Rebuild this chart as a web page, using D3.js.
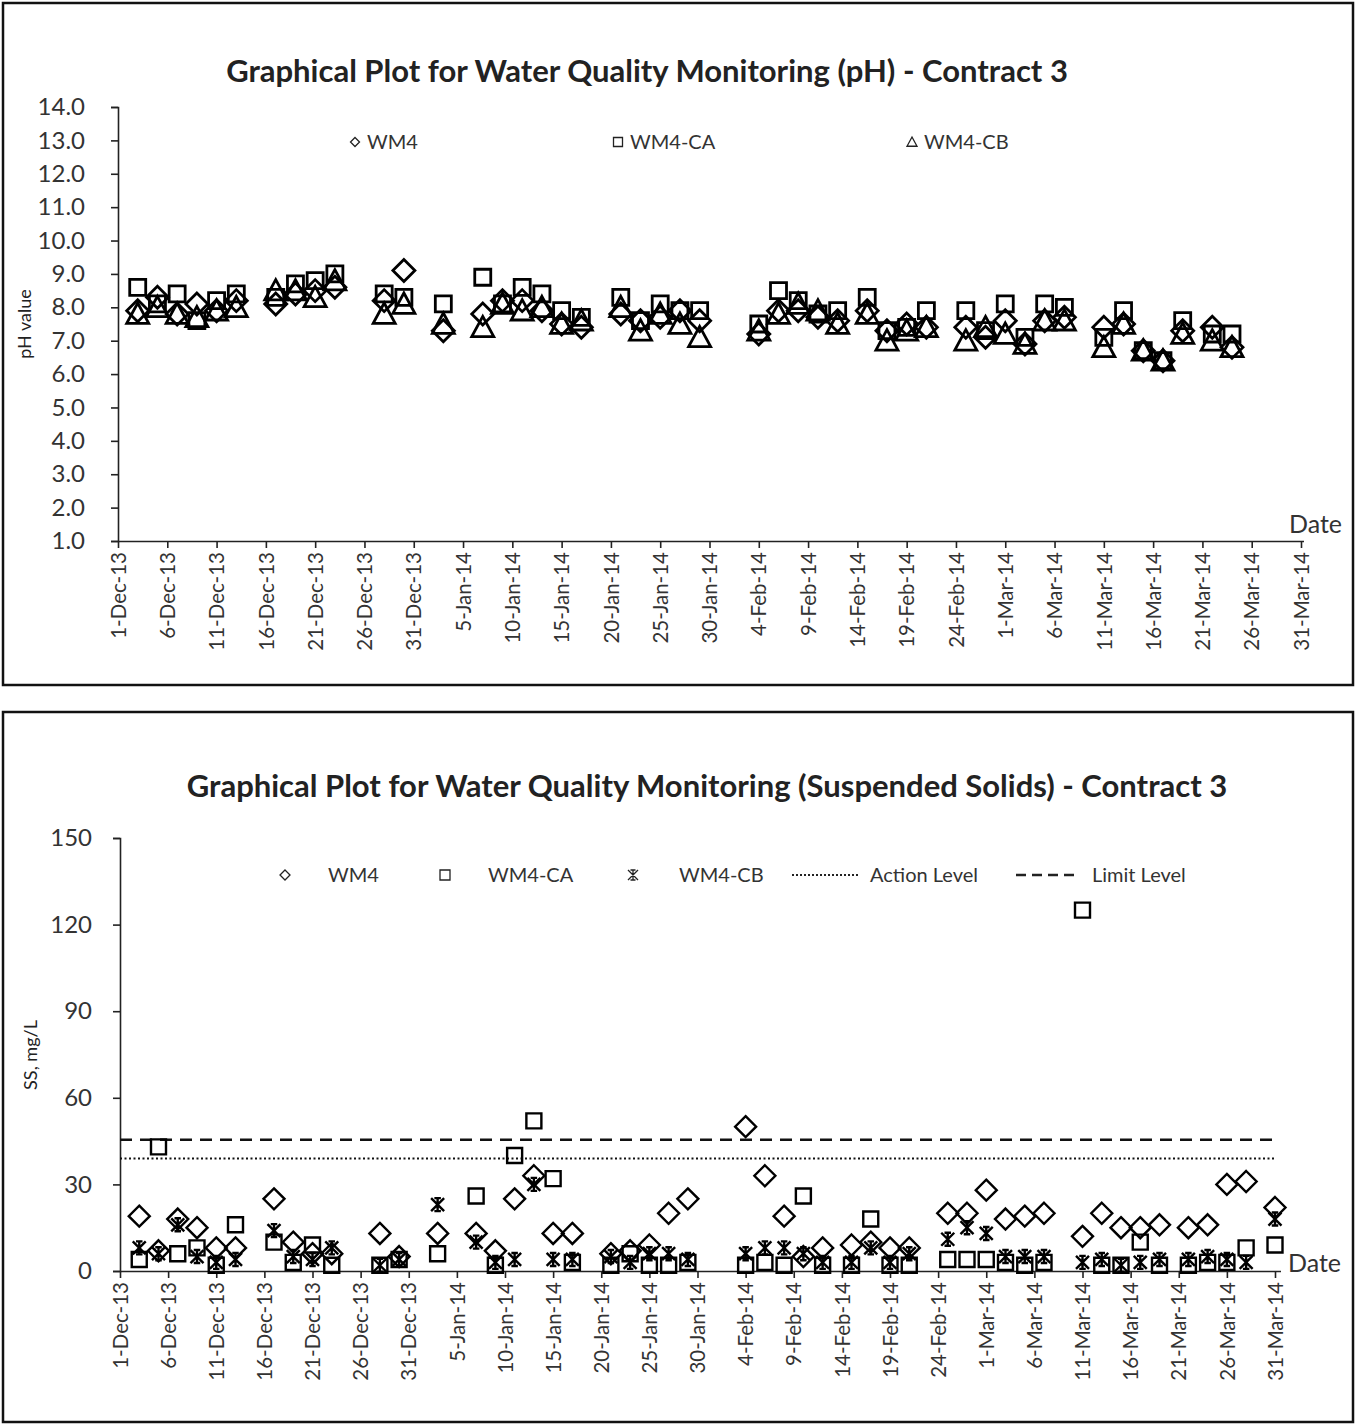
<!DOCTYPE html>
<html>
<head>
<meta charset="utf-8">
<script src="https://cdn.jsdelivr.net/npm/d3@7"></script>
<style>
  body { margin: 0; background: #fff; }
  text { font-family: Lato, "Open Sans", sans-serif; fill: #222; }
</style>
</head>
<body>
<svg id="chart" width="1356" height="1425"></svg>
<script>
// pH chart sampling dates
const phDates = [
  "2013-12-03","2013-12-05","2013-12-07","2013-12-09","2013-12-11","2013-12-13",
  "2013-12-17","2013-12-19","2013-12-21","2013-12-23","2013-12-28","2013-12-30",
  "2014-01-03","2014-01-07","2014-01-09","2014-01-11","2014-01-13","2014-01-15",
  "2014-01-17","2014-01-21","2014-01-23","2014-01-25","2014-01-27","2014-01-29",
  "2014-02-04","2014-02-06","2014-02-08","2014-02-10","2014-02-12","2014-02-15",
  "2014-02-17","2014-02-19","2014-02-21","2014-02-25","2014-02-27",
  "2014-03-01","2014-03-03","2014-03-05","2014-03-07","2014-03-11","2014-03-13",
  "2014-03-15","2014-03-17","2014-03-19","2014-03-22","2014-03-24"
];
const phWM4 = [7.9,8.3,7.8,8.1,7.9,8.2,8.1,8.4,8.5,8.6,8.2,9.1,
  7.3,7.8,8.2,8.2,7.9,7.5,7.4,7.8,7.6,7.7,7.9,7.6,
  7.2,7.9,7.9,7.7,7.6,7.9,7.3,7.5,7.4,7.4,7.1,
  7.6,6.9,7.6,7.7,7.4,7.5,6.7,6.4,7.3,7.4,6.8];
const phWM4CA = [8.6,8.1,8.4,7.6,8.2,8.4,8.3,8.7,8.8,9.0,8.4,8.3,
  8.1,8.9,8.1,8.6,8.4,7.9,7.7,8.3,7.6,8.1,7.9,7.9,
  7.5,8.5,8.2,7.8,7.9,8.3,7.3,7.4,7.9,7.9,7.3,
  8.1,7.1,8.1,8.0,7.1,7.9,6.7,6.4,7.6,7.2,7.2];
const phWM4CB = [7.8,8.0,7.8,7.7,7.9,8.0,8.5,8.5,8.3,8.8,7.8,8.1,
  7.5,7.4,8.1,7.9,8.0,7.5,7.6,8.0,7.3,7.8,7.5,7.1,
  7.3,7.8,8.1,7.9,7.5,7.8,7.0,7.3,7.4,7.0,7.4,
  7.2,6.9,7.6,7.6,6.8,7.5,6.7,6.4,7.2,7.0,6.8];
const phTicks = [1,2,3,4,5,6,7,8,9,10,11,12,13,14];

// suspended solids sampling dates
const ssDates = phDates.concat(["2014-03-26","2014-03-28","2014-03-31"]);
const ssWM4 = [19,7,18,15,8,8,25,10,6,6,13,5,
  13,13,7,25,33,13,13,6,7,9,20,25,
  50,33,19,5,8,9,10,8,8,20,20,
  28,18,19,20,12,20,15,15,16,15,16,30,31,22];
const ssWM4CA = [4,43,6,8,2,16,10,3,9,2,2,4,
  6,26,2,40,52,32,3,2,6,2,2,3,
  2,3,2,26,2,2,18,2,2,4,4,
  4,3,2,3,125,2,2,10,2,2,3,3,8,9];
const ssWM4CB = [8,6,16,5,3,4,14,5,4,8,2,4,
  23,10,3,4,30,4,4,5,3,6,6,4,
  6,8,8,6,3,3,8,3,6,11,15,
  13,5,5,5,3,4,2,3,4,4,5,4,3,18];
const ssTicks = [0,30,60,90,120,150];
const actionLevel = 39;
const limitLevel = 45.5;

const parse = d3.utcParse("%Y-%m-%d");
const fmt = d3.utcFormat("%-d-%b-%y");
const start = Date.UTC(2013, 11, 1);
const dateTicks = d3.range(0, 121, 5).map(d => d3.utcDay.offset(new Date(start), d));

// marker path generators
const shapes = {
  diamond: r => `M0,${-r}L${r},0L0,${r}L${-r},0Z`,
  square: r => `M${-r},${-r}H${r}V${r}H${-r}Z`,
  triangle: r => `M0,${-r}L${r},${r * 0.85}H${-r}Z`,
  star: r => `M${-r},${-r}L${r},${r}M${r},${-r}L${-r},${r}M0,${-r}V${r}M${-r*0.5},${-r}H${r*0.5}M${-r*0.5},${r}H${r*0.5}`
};

const svg = d3.select("#chart");

function frame(y0, h) {
  svg.append("rect").attr("x", 3).attr("y", y0).attr("width", 1350).attr("height", h)
    .attr("fill", "none").attr("stroke", "#111").attr("stroke-width", 2.5);
}

function drawChart(o) {
  const g = svg.append("g");
  const x = d3.scaleUtc().domain([new Date(start), d3.utcDay.offset(new Date(start), 120)])
    .range([o.left, o.right]);
  const y = d3.scaleLinear().domain(o.yDomain).range([o.bottom, o.top]);

  g.append("text").attr("x", o.titleX).attr("y", o.titleY).attr("text-anchor", "middle")
    .style("font-size", o.titleSize + "px").style("font-weight", "bold").text(o.title);

  const yAxis = g.append("g").attr("transform", `translate(${o.left},0)`)
    .call(d3.axisLeft(y).tickValues(o.yTicks).tickSize(7).tickPadding(o.yPad).tickFormat(o.yFormat));
  yAxis.selectAll("text").style("font-size", "24px").style("fill", "#333");

  const xAxis = g.append("g").attr("transform", `translate(0,${o.bottom})`)
    .call(d3.axisBottom(x).tickValues(dateTicks).tickSize(7).tickFormat(fmt).tickSizeOuter(0));
  xAxis.select(".domain").attr("d", `M${o.left},0.5H${o.axisEnd}`);
  xAxis.selectAll("text").style("font-size", "20.5px").style("fill", "#333")
    .attr("transform", "rotate(-90)").attr("x", -11).attr("y", 0).attr("dy", "0.35em")
    .style("text-anchor", "end");
  g.selectAll(".domain, .tick line").attr("stroke", "#222").attr("stroke-width", 1.6);

  g.append("text").attr("x", o.dateX).attr("y", o.dateY).style("font-size", "25px")
    .style("fill", "#333").text("Date");
  g.append("text").attr("transform", `translate(${o.yLabelX},${o.yLabelY}) rotate(-90)`)
    .attr("text-anchor", "middle").style("font-size", "18px").text(o.yLabel);

  if (o.lines) {
    o.lines.forEach(l => {
      g.append("line").attr("x1", o.left).attr("x2", o.right)
        .attr("y1", y(l.value)).attr("y2", y(l.value))
        .attr("stroke", "#111").attr("stroke-width", l.width).attr("stroke-dasharray", l.dash);
    });
  }

  o.series.forEach(s => {
    g.append("g").selectAll("path").data(s.values).join("path")
      .attr("transform", (d, i) => `translate(${x(parse(o.dates[i]))},${y(d)})`)
      .attr("d", shapes[s.shape](s.r))
      .attr("fill", "none").attr("stroke", "#000").attr("stroke-width", o.markStroke);
  });

  // legend
  o.legend.forEach(l => {
    if (l.shape) {
      g.append("path").attr("transform", `translate(${l.mx},${o.legendY - 7})`)
        .attr("d", shapes[l.shape](l.r)).attr("fill", "none").attr("stroke", "#222").attr("stroke-width", 1.3);
    } else {
      g.append("line").attr("x1", l.mx).attr("x2", l.mx2).attr("y1", o.legendY - 7).attr("y2", o.legendY - 7)
        .attr("stroke", "#222").attr("stroke-width", l.width).attr("stroke-dasharray", l.dash);
    }
    g.append("text").attr("x", l.tx).attr("y", o.legendY).style("font-size", "20px")
      .style("fill", "#333").text(l.label);
  });
}

frame(3, 682);
frame(712, 710);

drawChart({
  title: "Graphical Plot for Water Quality Monitoring (pH) - Contract 3",
  titleX: 647, titleY: 82, titleSize: 31,
  left: 118, right: 1301, axisEnd: 1304, top: 107, bottom: 541,
  yDomain: [1, 14], yTicks: phTicks, yFormat: d3.format(".1f"), yPad: 26,
  yLabel: "pH value", yLabelX: 31, yLabelY: 324, dateX: 1289, dateY: 533,
  dates: phDates, markStroke: 2.8,
  series: [
    {values: phWM4CB, shape: "triangle", r: 11},
    {values: phWM4CA, shape: "square", r: 8},
    {values: phWM4, shape: "diamond", r: 11}
  ],
  legendY: 149,
  legend: [
    {shape: "diamond", r: 4.5, mx: 355, tx: 367, label: "WM4"},
    {shape: "square", r: 4.5, mx: 618, tx: 630, label: "WM4-CA"},
    {shape: "triangle", r: 5, mx: 912, tx: 924, label: "WM4-CB"}
  ]
});

drawChart({
  title: "Graphical Plot for Water Quality Monitoring (Suspended Solids) - Contract 3",
  titleX: 707, titleY: 797, titleSize: 31,
  left: 120, right: 1275, axisEnd: 1281, top: 838, bottom: 1271,
  yDomain: [0, 150], yTicks: ssTicks, yFormat: d3.format("d"), yPad: 21,
  yLabel: "SS, mg/L", yLabelX: 37, yLabelY: 1055, dateX: 1288, dateY: 1272,
  dates: ssDates, markStroke: 2.4,
  lines: [
    {value: actionLevel, width: 2, dash: "2,2.5"},
    {value: limitLevel, width: 2.5, dash: "12,8"}
  ],
  series: [
    {values: ssWM4CB, shape: "star", r: 6.5},
    {values: ssWM4CA, shape: "square", r: 7.5},
    {values: ssWM4, shape: "diamond", r: 10.5}
  ],
  legendY: 882,
  legend: [
    {shape: "diamond", r: 5, mx: 285, tx: 328, label: "WM4"},
    {shape: "square", r: 5, mx: 445, tx: 488, label: "WM4-CA"},
    {shape: "star", r: 5, mx: 633, tx: 679, label: "WM4-CB"},
    {mx: 792, mx2: 858, width: 1.8, dash: "2,2", tx: 870, label: "Action Level"},
    {mx: 1016, mx2: 1080, width: 2.5, dash: "10,6", tx: 1092, label: "Limit Level"}
  ]
});
</script>
</body>
</html>
